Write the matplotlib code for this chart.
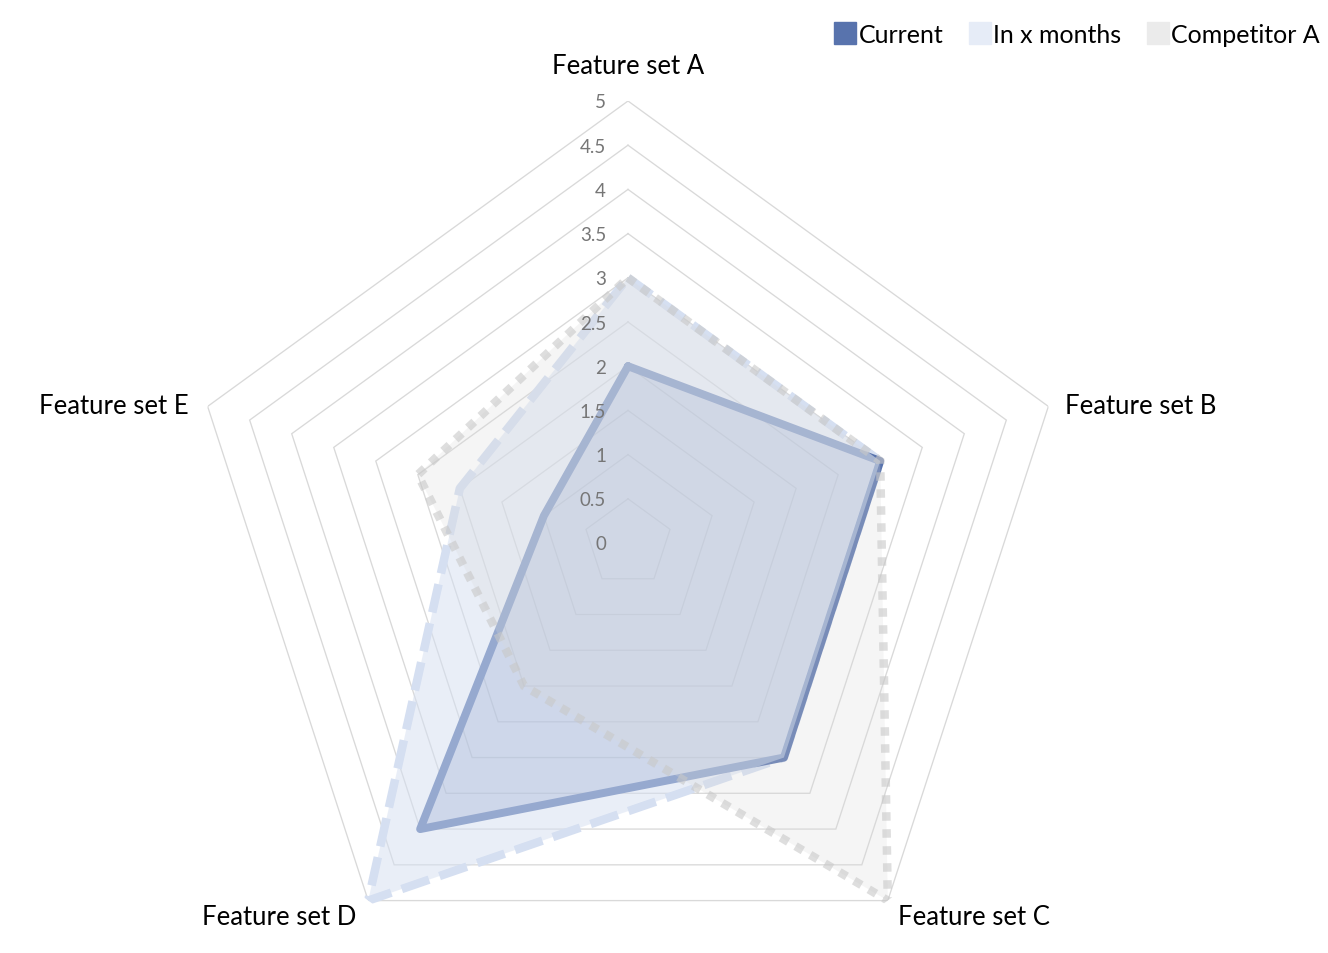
import numpy as np
import matplotlib
matplotlib.use("Agg")
import matplotlib.pyplot as plt
from matplotlib.lines import Line2D

plt.rcParams['font.family'] = ['Lato', 'DejaVu Sans']

categories = ["Feature set A", "Feature set B", "Feature set C", "Feature set D", "Feature set E"]
current = [2, 3, 3, 4, 1]
in_x_months = [3, 3, 3, 5, 2]
competitor_a = [3, 3, 5, 2, 2.5]
series_names = ["Current", "In x months", "Competitor A"]
tick_values = [0, 0.5, 1, 1.5, 2, 2.5, 3, 3.5, 4, 4.5, 5]
tick_labels = ["0", "0.5", "1", "1.5", "2", "2.5", "3", "3.5", "4", "4.5", "5"]

W, H = 1328, 954
fig = plt.figure(figsize=(W / 100, H / 100), dpi=100)
cx, cy, R = 628, H - 544, 442
ax = fig.add_axes([(cx - R) / W, (cy - R) / H, 2 * R / W, 2 * R / H], projection='polar')
ax.set_theta_zero_location('N')
ax.set_theta_direction(-1)
ax.set_ylim(0, 5)
ax.axis('off')

n = len(categories)
theta = np.arange(n) * 2 * np.pi / n
theta_c = np.append(theta, theta[0])

def closed(v):
    return np.append(v, v[0])

# grid pentagons
for v in tick_values[1:]:
    ax.plot(theta_c, [v] * (n + 1), color='#D9D9D9', lw=0.95, zorder=0.5, solid_joinstyle='miter')

px = 0.72  # points per pixel
# Current fill
ax.fill(theta_c, closed(current), color='#5873AD', alpha=0.33, lw=0, zorder=1)
# In x months line (under current line)
ax.plot(theta_c, closed(in_x_months), color='#D5DFF1', lw=8.5 * px, zorder=1.5,
        dashes=(3.4, 1.3), dash_capstyle='butt', dash_joinstyle='round')
# Current line
ax.plot(theta_c, closed(current), color='#5873AD', lw=8 * px, zorder=2,
        solid_joinstyle='round', solid_capstyle='round')
# In x months fill
ax.fill(theta_c, closed(in_x_months), color='#D5DFF1', alpha=0.5, lw=0, zorder=3)
# Competitor A
ax.fill(theta_c, closed(competitor_a), color='#D9D9D9', alpha=0.25, lw=0, zorder=5)
ax.plot(theta_c, closed(competitor_a), color='#C8C8C8', alpha=0.6, lw=8.5 * px, zorder=6,
        dashes=(1, 1), dash_capstyle='butt', dash_joinstyle='miter')

# radial tick labels
for v, lab in zip(tick_values, tick_labels):
    ax.annotate(lab, xy=(0, v), xytext=(-22, -1), textcoords='offset pixels',
                ha='right', va='center', fontsize=13.5,
                color='#767676', zorder=10)

# category labels
offsets = [(0, 35, 'center'), (17, 1, 'left'), (10, -16, 'left'), (-12, -16, 'right'), (-19, 1, 'right')]
for t, lab, (dx, dy, ha) in zip(theta, categories, offsets):
    ax.annotate(lab, xy=(t, 5), xytext=(dx, dy), textcoords='offset pixels',
                ha=ha, va='center', fontsize=18.5, color='#000000', annotation_clip=False)

# legend
handles = [
    Line2D([], [], ls='none', marker='s', markersize=16, markerfacecolor='#5873AD',
           markeredgecolor='#5873AD'),
    Line2D([], [], ls='none', marker='s', markersize=16, markerfacecolor='#E6ECF7',
           markeredgecolor='#E6ECF7'),
    Line2D([], [], ls='none', marker='s', markersize=16, markerfacecolor='#EBEBEB',
           markeredgecolor='#EBEBEB'),
]
fig.legend(handles, series_names, loc='upper right', bbox_to_anchor=(1320 / W, 1 - 24 / H),
           ncol=3, frameon=False, fontsize=18, handlelength=0.9, handletextpad=0.1,
           columnspacing=1.0, borderaxespad=0, borderpad=0)

fig.savefig('out.png', dpi=100)
